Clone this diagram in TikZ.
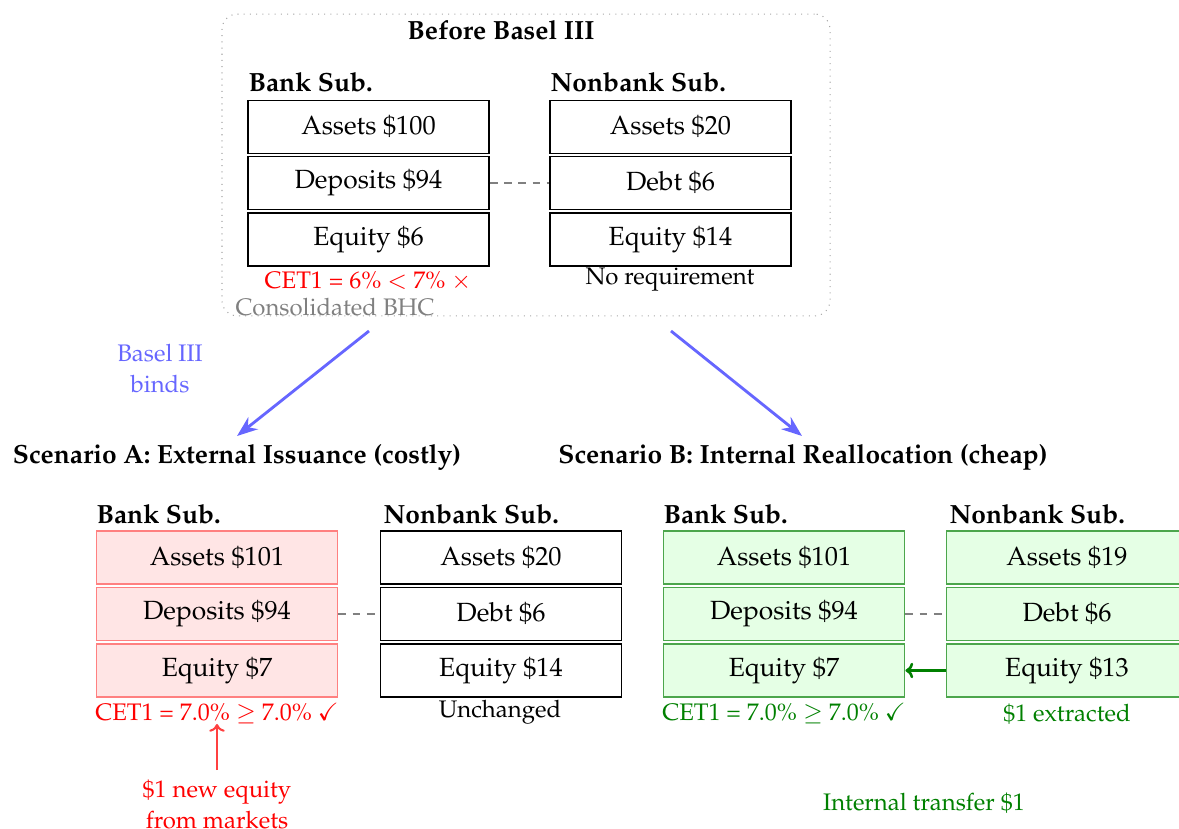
\documentclass[tikz,border=0pt]{standalone}
\usepackage[T1]{fontenc}
\usepackage{mathpazo}
\usepackage{amssymb}
\usetikzlibrary{arrows.meta}
\definecolor{redfill}{HTML}{FFE5E5}
\definecolor{redline}{HTML}{FF8080}
\definecolor{greenfill}{HTML}{E5FFE5}
\definecolor{greenline}{HTML}{4CA64C}
\definecolor{darkgreen}{HTML}{008000}
\definecolor{bluearrow}{HTML}{6666FF}
\newcommand{\fsz}{\fontsize{10.2}{12.6}\selectfont}
\newcommand{\fsm}{\fontsize{9.27}{12}\selectfont}
\tikzset{
  cell/.style={draw=black, line width=0.6pt, minimum width=93.5pt, minimum height=20.4pt, inner sep=0pt, font=\fsz},
  redcell/.style={cell, draw=redline, fill=redfill},
  greencell/.style={cell, draw=greenline, fill=greenfill},
  head/.style={font=\fsz\bfseries, anchor=west, inner sep=0pt},
  link/.style={gray, dash pattern=on 3pt off 2.5pt, line width=0.4pt},
  note/.style={font=\fsm, inner sep=0pt},
}
\begin{document}
\begin{tikzpicture}[x=0.3875pt, y=-0.3875pt]
\useasboundingbox (0,0) rectangle (1179,829);
\clip (0,0) rectangle (1179,829);
% Before
\node[draw=gray!70, dotted, rounded corners=6pt, minimum width=235.6pt, minimum height=117pt, inner sep=0pt] (frame) at (526,165) {};
\node[font=\fsz\bfseries] (t0) at (501,30) {Before Basel III};
\node[head] (h1) at (248,82) {Bank Sub.};
\node[head] (h2) at (550,82) {Nonbank Sub.};
\node[cell] (a1) at (368.5,127) {Assets \$100};
\node[cell] (d1) at (368.5,183) {Deposits \$94};
\node[cell] (e1) at (368.5,239.5) {Equity \$6};
\node[cell] (a2) at (670.5,127) {Assets \$20};
\node[cell] (d2) at (670.5,183) {Debt \$6};
\node[cell] (e2) at (670.5,239.5) {Equity \$14};
\draw[link] (d1.east) -- (d2.west);
\node[note, red] (c1) at (368,281) {CET1 = 6\% $<$ 7\% $\times$};
\node[note] (n1) at (670,280) {No requirement};
\node[note, gray, anchor=west] (bhc) at (235,307) {Consolidated BHC};
% arrows
\coordinate (s1) at (369,331);
\coordinate (s2) at (671,331);
\coordinate (g1) at (237,436);
\coordinate (g2) at (802,436);
\draw[bluearrow, line width=1.1pt, -{Stealth[length=8pt,width=6pt]}] (s1) -- (g1);
\draw[bluearrow, line width=1.1pt, -{Stealth[length=8pt,width=6pt]}] (s2) -- (g2);
\node[note, bluearrow, align=center] (bind) at (160,369) {Basel III\\binds};
% Scenario titles
\node[font=\fsz\bfseries] (tA) at (237,457) {Scenario A: External Issuance (costly)};
\node[font=\fsz\bfseries] (tB) at (803,457) {Scenario B: Internal Reallocation (cheap)};
% Scenario A
\node[head] (hA1) at (96,514) {Bank Sub.};
\node[head] (hA2) at (383,514) {Nonbank Sub.};
\node[redcell] (aA1) at (217,557.5) {Assets \$101};
\node[redcell] (dA1) at (217,614) {Deposits \$94};
\node[redcell] (eA1) at (217,670.5) {Equity \$7};
\node[cell] (aA2) at (501,557.5) {Assets \$20};
\node[cell] (dA2) at (501,614) {Debt \$6};
\node[cell] (eA2) at (501,670.5) {Equity \$14};
\draw[link] (dA1.east) -- (dA2.west);
\node[note, red] (cA) at (217,714) {CET1 = 7.0\% $\geq$ 7.0\% $\checkmark$};
\node[note] (uA) at (500,712) {Unchanged};
\node[note, red, align=center] (mk) at (217,805) {\$1 new equity\\from markets};
\coordinate (mkt) at (217,770);
\coordinate (cAb) at (217,724);
\draw[red!75, line width=0.8pt, -{To[length=3pt,width=6pt]}] (mkt) -- (cAb);
% Scenario B
\node[head] (hB1) at (663,514) {Bank Sub.};
\node[head] (hB2) at (949,514) {Nonbank Sub.};
\node[greencell] (aB1) at (784,557.5) {Assets \$101};
\node[greencell] (dB1) at (784,614) {Deposits \$94};
\node[greencell] (eB1) at (784,670.5) {Equity \$7};
\node[greencell] (aB2) at (1067,557.5) {Assets \$19};
\node[greencell] (dB2) at (1067,614) {Debt \$6};
\node[greencell] (eB2) at (1067,670.5) {Equity \$13};
\draw[link] (dB1.east) -- (dB2.west);
\draw[darkgreen, line width=1pt, -{To[length=3pt,width=6pt]}] (eB2.west) -- (eB1.east);
\node[note, darkgreen] (cB) at (784,714) {CET1 = 7.0\% $\geq$ 7.0\% $\checkmark$};
\node[note, darkgreen] (xB) at (1067,714) {\$1 extracted};
\node[note, darkgreen] (it) at (924,803) {Internal transfer \$1};
\end{tikzpicture}
\end{document}
